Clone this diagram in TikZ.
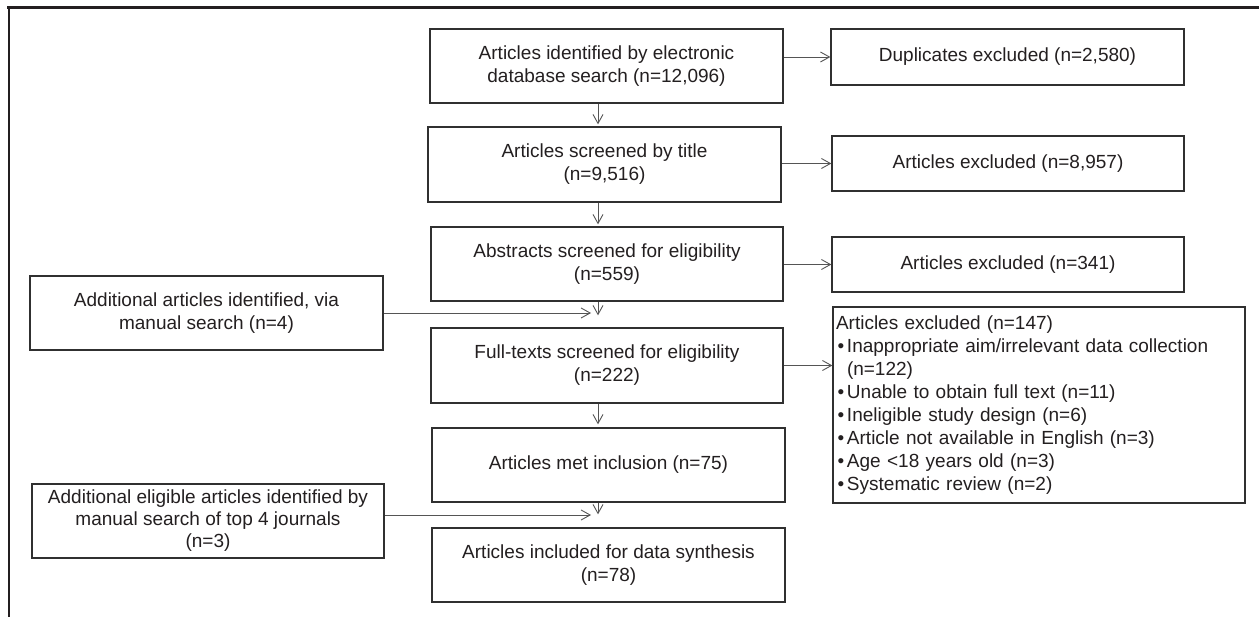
\documentclass[tikz,border=0pt]{standalone}
\usepackage{fontspec}
\setmainfont{Liberation Sans}
\usetikzlibrary{arrows.meta}
\definecolor{txt}{HTML}{231F20}
\definecolor{boxc}{HTML}{303030}
\definecolor{arrc}{HTML}{555555}
\newcommand\fsz{\fontsize{19}{23}\selectfont}
\newcommand\itm{\makebox[11pt][l]{\hspace{1.5pt}\textbullet}}
\begin{document}
\begin{tikzpicture}[x=1pt,y=-1pt,
  box/.style={draw=boxc, line width=1.3pt, rectangle, inner sep=0pt, align=center, text=txt, font=\fsz},
  wide/.style={minimum width=353pt, minimum height=74pt},
  side/.style={minimum width=352pt, minimum height=55pt},
  arr/.style={draw=arrc, line width=0.9pt, -{Straight Barb[length=9pt,width=10pt,line width=0.9pt]}},
  frame/.style={draw=txt, line width=2.2pt}]
\useasboundingbox (0,0) rectangle (1259,617);
\fill[white] (0,0) rectangle (1259,617);
% frame
\coordinate (ftl) at (7,7.5);
\coordinate (ftr) at (1259,7.5);
\coordinate (fl1) at (9,6.4);
\coordinate (fl2) at (9,617);
\draw[frame] (ftl) -- (ftr);
\draw[frame] (fl1) -- (fl2);
% main column
\node[box, wide] (b1) at (606.5,66) {Articles identified by electronic\\database search (n=12,096)};
\node[box, wide, minimum height=75pt] (b2) at (604.5,164.5) {Articles screened by title\\(n=9,516)};
\node[box, minimum width=352pt, minimum height=74pt] (b3) at (607,264) {Abstracts screened for eligibility\\(n=559)};
\node[box, minimum width=352pt, minimum height=75pt] (b4) at (607,365.5) {Full-texts screened for eligibility\\(n=222)};
\node[box, wide] (b5) at (608.5,465) {Articles met inclusion (n=75)};
\node[box, wide] (b6) at (608.5,565) {Articles included for data synthesis\\(n=78)};
% right column
\node[box, minimum width=353pt, minimum height=56pt] (d) at (1007.5,57) {Duplicates excluded (n=2,580)};
\node[box, side] (e1) at (1008,163.5) {Articles excluded (n=8,957)};
\node[box, side] (e2) at (1008,264.5) {Articles excluded (n=341)};
\node[box, minimum width=412pt, minimum height=196pt, text width=406pt, inner xsep=3pt, align=left] (e3) at (1039,405)
 {Articles excluded (n=147)\\
  \itm Inappropriate aim/irrelevant data collection\\
  \hspace*{11pt}(n=122)\\
  \itm Unable to obtain full text (n=11)\\
  \itm Ineligible study design (n=6)\\
  \itm Article not available in English (n=3)\\
  \itm Age <18 years old (n=3)\\
  \itm Systematic review (n=2)};
% left column
\node[box, wide] (l1) at (206.5,313) {Additional articles identified, via\\manual search (n=4)};
\node[box, minimum width=352pt, minimum height=74pt, font=\fontsize{19}{22}\selectfont] (l2) at (208,521) {Additional eligible articles identified by\\manual search of top 4 journals\\(n=3)};
% connectors
\coordinate (ax) at (598,0);
\coordinate (j1) at (591,313);
\coordinate (j2) at (591,515);
\draw[arr, shorten >=2pt] (b1.south -| ax) -- (b2.north -| ax);
\draw[arr, shorten >=2pt] (b2.south -| ax) -- (b3.north -| ax);
\draw[arr, shorten >=12pt] (b3.south -| ax) -- (b4.north -| ax);
\draw[arr, shorten >=3pt] (b4.south -| ax) -- (b5.north -| ax);
\draw[arr, shorten >=13pt] (b5.south -| ax) -- (b6.north -| ax);
\draw[arr] (l1.east) -- (j1);
\draw[arr] (j2 -| l2.east) -- (j2);
\draw[arr] (b1.east |- d.west) -- (d.west);
\draw[arr] (b2.east |- e1.west) -- (e1.west);
\draw[arr] (b3.east |- e2.west) -- (e2.west);
\draw[arr] (b4.east) -- (b4.east -| e3.west);
\end{tikzpicture}
\end{document}
